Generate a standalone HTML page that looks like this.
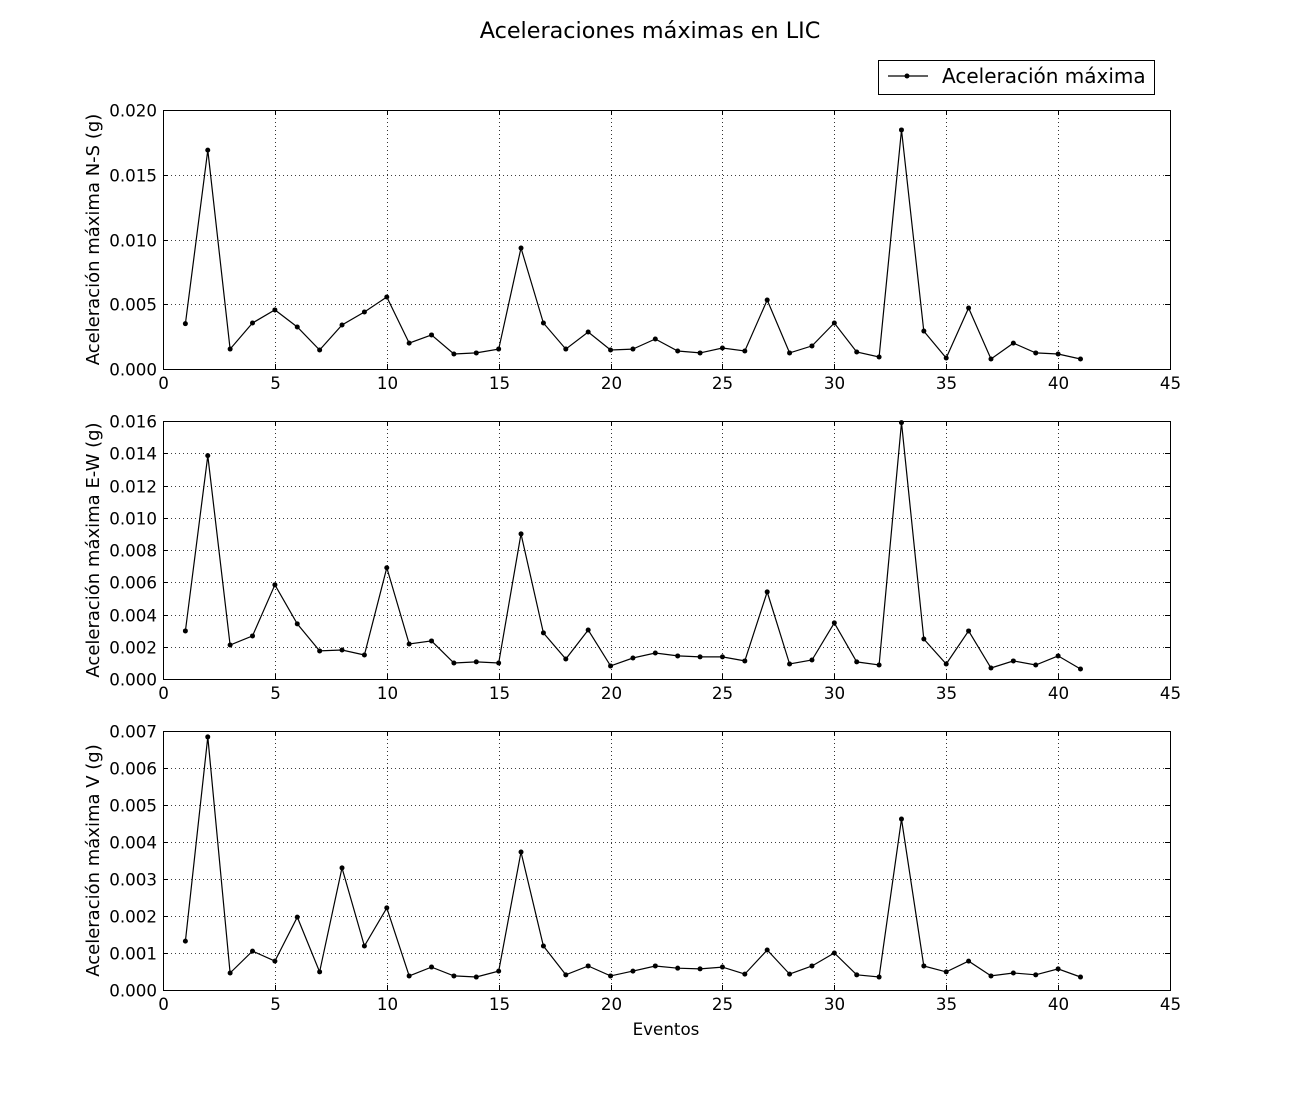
<!DOCTYPE html>
<html><head><meta charset="utf-8">
<style>
html,body{margin:0;padding:0;background:#fff;}
svg{display:block;font-family:"DejaVu Sans","Liberation Sans",sans-serif;}
</style></head>
<body>
<svg id="chart" width="1300" height="1100" viewBox="0 0 1300 1100">
<rect x="0" y="0" width="1300" height="1100" fill="#fff"/>
<text x="650" y="38" text-anchor="middle" font-size="22.3">Aceleraciones máximas en LIC</text>
<g>
<rect x="878.5" y="60.5" width="276" height="34" fill="#fff" stroke="#000" stroke-width="1"/>
<line x1="888" y1="76" x2="928" y2="76" stroke="#000" stroke-width="1.2"/>
<circle cx="907" cy="76" r="2.5" fill="#000"/>
<text x="942" y="83" font-size="20">Aceleración máxima</text>
</g>
<g id="plots"></g>
<text x="666" y="1035" text-anchor="middle" font-size="16.7">Eventos</text>
</svg>
<script>
const events = Array.from({length:41},(_,i)=>i+1);
const nsValues = [0.0035,0.0169,0.00154,0.00355,0.00456,0.00324,0.00147,0.0034,0.0044,0.00556,0.002,0.00263,0.00116,0.00124,0.00154,0.00934,0.00355,0.00154,0.00286,0.00147,0.00154,0.00232,0.00139,0.00124,0.00162,0.00139,0.00533,0.00124,0.00178,0.00355,0.00131,0.00093,0.01846,0.00293,0.00085,0.00471,0.00077,0.002,0.00124,0.00116,0.00077];
const ewValues = [0.00298,0.01385,0.00211,0.00267,0.00584,0.00342,0.00174,0.0018,0.00149,0.0069,0.00217,0.00236,0.00099,0.00106,0.00099,0.009,0.00286,0.00124,0.00304,0.00081,0.0013,0.00161,0.00143,0.00137,0.00137,0.00112,0.0054,0.00093,0.00118,0.00348,0.00106,0.00087,0.0159,0.00248,0.00093,0.00298,0.00068,0.00112,0.00087,0.00143,0.00062];
const vValues = [0.00132,0.00684,0.00046,0.00105,0.00078,0.00197,0.00049,0.0033,0.00119,0.00222,0.00038,0.00062,0.00038,0.00035,0.00051,0.00373,0.00119,0.00041,0.00065,0.00038,0.00051,0.00065,0.00059,0.00057,0.00062,0.00043,0.00108,0.00043,0.00065,0.001,0.00041,0.00035,0.00462,0.00065,0.00049,0.00078,0.00038,0.00046,0.00041,0.00057,0.00035];
const xTicks = [0,5,10,15,20,25,30,35,40,45];
const nsTicks = [0,0.005,0.010,0.015,0.020];
const ewTicks = [0,0.002,0.004,0.006,0.008,0.010,0.012,0.014,0.016];
const vTicks = [0,0.001,0.002,0.003,0.004,0.005,0.006,0.007];
const panels = [
 {name:'ns',vals:nsValues,ticks:nsTicks,dec:3,top:110,bottom:369,label:'Aceleración máxima N-S (g)'},
 {name:'ew',vals:ewValues,ticks:ewTicks,dec:3,top:421,bottom:679,label:'Aceleración máxima E-W (g)'},
 {name:'v',vals:vValues,ticks:vTicks,dec:3,top:731,bottom:990,label:'Aceleración máxima V (g)'}
];
const L=163,R=1170,NS='http://www.w3.org/2000/svg';
const xs=v=>L+(v-xTicks[0])/(xTicks[xTicks.length-1]-xTicks[0])*(R-L);
const root=document.getElementById('plots');
function mk(tag,attrs,parent){const e=document.createElementNS(NS,tag);for(const k in attrs)e.setAttribute(k,attrs[k]);parent.appendChild(e);return e;}
panels.forEach(p=>{
 const g=mk('g',{},root);
 
 
 const y0=p.ticks[0],y1=p.ticks[p.ticks.length-1];
 const ys=v=>p.bottom-(v-y0)/(y1-y0)*(p.bottom-p.top);
 xTicks.forEach(t=>{
  const x=Math.round(xs(t))+0.5;
  if(t!==xTicks[0]&&t!==xTicks[xTicks.length-1]) mk('line',{x1:x,x2:x,y1:p.top,y2:p.bottom,stroke:'#000','stroke-width':0.8,'stroke-dasharray':'1,3'},g);
  mk('line',{x1:x,x2:x,y1:p.bottom,y2:p.bottom-5,stroke:'#000'},g);
  mk('line',{x1:x,x2:x,y1:p.top,y2:p.top+5,stroke:'#000'},g);
  const tx=mk('text',{x:x,y:p.bottom+20,'text-anchor':'middle','font-size':16.7},g);
  tx.textContent=t;
  
  
 });
 p.ticks.forEach(t=>{
  const y=Math.round(ys(t))+0.5;
  if(t!==y0&&t!==y1) mk('line',{x1:L,x2:R,y1:y,y2:y,stroke:'#000','stroke-width':0.8,'stroke-dasharray':'1,3'},g);
  mk('line',{x1:L,x2:L+5,y1:y,y2:y,stroke:'#000'},g);
  mk('line',{x1:R,x2:R-5,y1:y,y2:y,stroke:'#000'},g);
  const tx=mk('text',{x:L-6,y:y+6,'text-anchor':'end','font-size':16.7},g);
  tx.textContent=t.toFixed(p.dec);
  
  
 });
 mk('rect',{x:L+0.5,y:p.top+0.5,width:R-L,height:p.bottom-p.top,fill:'none',stroke:'#000','stroke-width':1},g);
 const pts=p.vals.map((v,i)=>xs(events[i]).toFixed(1)+','+ys(v).toFixed(1)).join(' ');
 const line=mk('polyline',{points:pts,fill:'none',stroke:'#000','stroke-width':1.2},g);
 
 
 p.vals.forEach((v,i)=>{
  const c=mk('circle',{cx:xs(events[i]),cy:ys(v),r:2.5,fill:'#000'},g);
  
  
 });
 const cy=(p.top+p.bottom)/2;
 const yl=mk('text',{x:99,y:cy,'text-anchor':'middle','font-size':18,transform:`rotate(-90 99 ${cy})`},g);
 yl.textContent=p.label;
 
 
});
</script>
</body></html>
